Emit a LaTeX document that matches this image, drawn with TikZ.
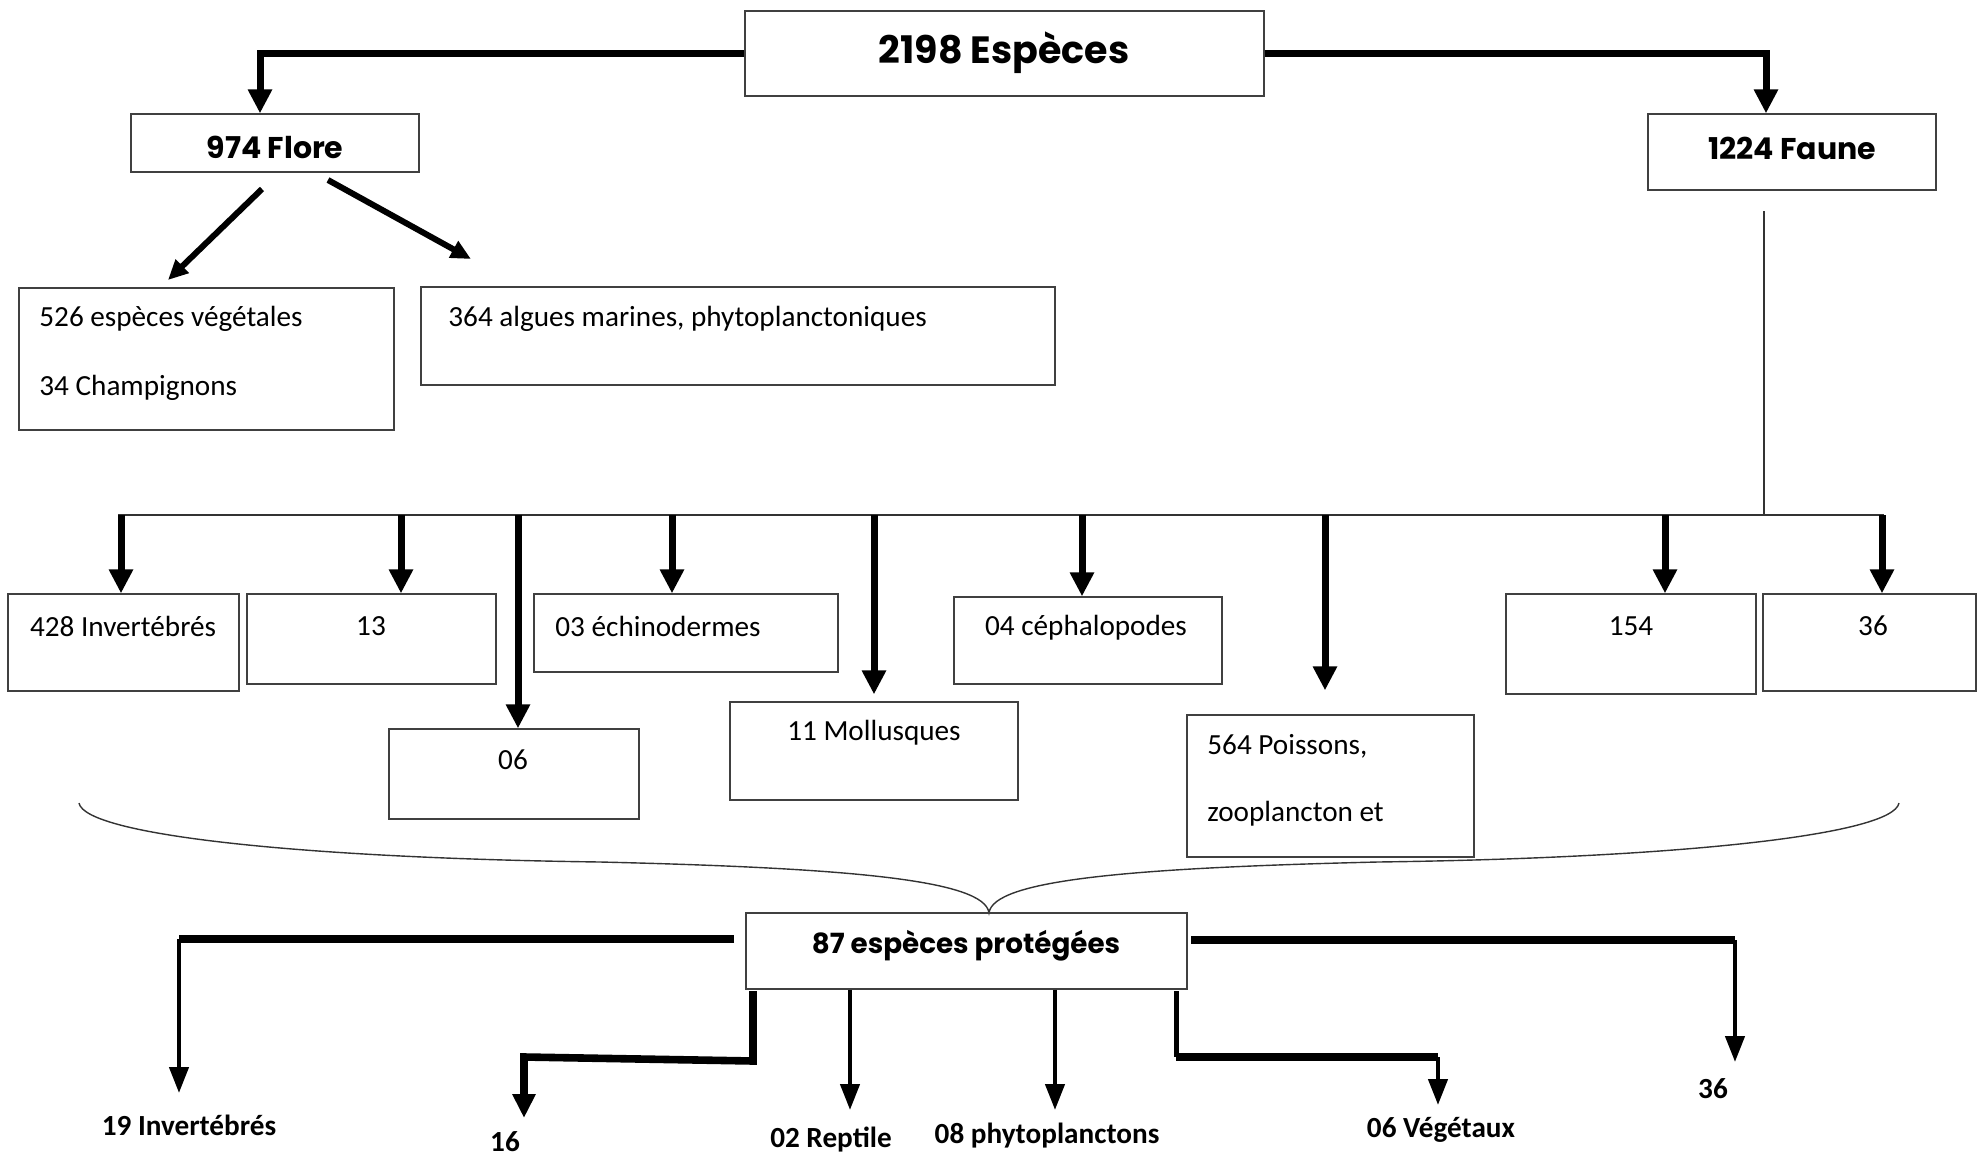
\documentclass[tikz,border=0pt]{standalone}
\usepackage{fontspec}
\setmainfont{Carlito}
\newfontfamily\comic{Poppins}
\usetikzlibrary{arrows.meta, positioning, calc}

\begin{document}
\begin{tikzpicture}[x=0.5pt, y=-0.5pt, font=\fontsize{14.6}{17}\selectfont,
    boite/.style={draw=black!75, line width=0.65pt, inner sep=0pt},
    titre/.style={font=\comic\bfseries\fontsize{15}{18}\selectfont},
    bas/.style={font=\bfseries\fontsize{14.6}{17}\selectfont},
    trait/.style={draw=black!80, line width=0.7pt},
    fleche/.style={line width=3.5pt, -{Triangle[length=12pt, width=11.5pt]}},
    flechefine/.style={line width=2.2pt, -{Triangle[length=13pt, width=9.5pt]}},
    barre/.style={line width=4pt}]
    \useasboundingbox (0,0) rectangle (1978,1157);

    % haut
    \node[boite, minimum width=259.5pt, minimum height=42.5pt] (total) at (1004.5,53.5) {};
    \node[titre, font=\comic\bfseries\fontsize{19}{22}\selectfont] (totaltxt) at (1004,53) {2198 Espèces};
    \node[boite, minimum width=144pt, minimum height=29pt] (flore) at (275,143) {};
    \node[titre] (floretxt) at (275,147) {974 Flore};
    \node[boite, minimum width=144pt, minimum height=38pt] (faune) at (1792,152) {};
    \node[titre] (faunetxt) at (1792,148) {1224 Faune};

    \draw[fleche] (total.west) -| ([xshift=-7.5pt]flore.north);
    \draw[fleche] (total.east) -| ([xshift=-13pt]faune.north);

    % flore
    \node[boite, minimum width=187.5pt, minimum height=71pt] (veg) at (206.5,359) {};
    \node[anchor=west, inner sep=0pt] (vegtxt) at (39,319) {526 espèces végétales};
    \node[anchor=west, inner sep=0pt] (chptxt) at (39,388) {34 Champignons};
    \node[boite, minimum width=317pt, minimum height=49pt] (algues) at (738,336) {};
    \node[anchor=west, inner sep=0pt] (alguestxt) at (448,319) {364 algues marines, phytoplanctoniques};

    \coordinate (fv1) at (262,189);
    \coordinate (fv2) at (168,280);
    \coordinate (fa1) at (328,180);
    \coordinate (fa2) at (471,259);
    \draw[line width=3pt, -{Triangle[length=10pt, width=9pt]}] (fv1) -- (fv2);
    \draw[line width=3pt, -{Triangle[length=10pt, width=9pt]}] (fa1) -- (fa2);

    % faune
    \coordinate (fn1) at (1764,211);
    \coordinate (fn2) at (1764,515);
    \coordinate (barg) at (118,515);
    \coordinate (bard) at (1884,515);
    \draw[trait] (fn1) -- (fn2);
    \draw[trait] (barg) -- (bard);

    \node[boite, minimum width=115.5pt, minimum height=48.5pt] (inv) at (123.5,642.5) {};
    \node (invtxt) at (123,626) {428 Invertébrés};
    \node[boite, minimum width=124.5pt, minimum height=45pt] (b13) at (371.5,639) {};
    \node (b13txt) at (371,626) {13};
    \node[boite, minimum width=152pt, minimum height=39pt] (ech) at (686,633) {};
    \node[anchor=west, inner sep=0pt] (echtxt) at (555,626) {03 échinodermes};
    \node[boite, minimum width=134pt, minimum height=43.5pt] (ceph) at (1088,640.5) {};
    \node (cephtxt) at (1086,628) {04 céphalopodes};
    \node[boite, minimum width=125pt, minimum height=50pt] (b154) at (1631,644) {};
    \node (b154txt) at (1631,626) {154};
    \node[boite, minimum width=106.5pt, minimum height=48.5pt] (b36) at (1869.5,642.5) {};
    \node (b36txt) at (1873,626) {36};
    \node[boite, minimum width=125pt, minimum height=45pt] (b06) at (514,774) {};
    \node (b06txt) at (513,760) {06};
    \node[boite, minimum width=144pt, minimum height=49pt] (moll) at (874,751) {};
    \node (molltxt) at (874,733) {11 Mollusques};
    \node[boite, minimum width=143.5pt, minimum height=71pt] (pois) at (1330.5,786) {};
    \node[anchor=west, inner sep=0pt] (poistxt) at (1207,746) {564 Poissons,};
    \node[anchor=west, inner sep=0pt] (zootxt) at (1207,814) {zooplancton et};

    \coordinate (r1) at (121,515);
    \coordinate (r2) at (401,515);
    \coordinate (r3) at (518,515);
    \coordinate (r4) at (672,515);
    \coordinate (r5) at (874,515);
    \coordinate (r6) at (1082,515);
    \coordinate (r7) at (1325,515);
    \coordinate (r8) at (1665,515);
    \coordinate (r9) at (1882,515);
    \draw[fleche] (r1) -- (r1 |- inv.north);
    \draw[fleche] (r2) -- (r2 |- b13.north);
    \draw[fleche] (r3) -- (r3 |- b06.north);
    \draw[fleche] (r4) -- (r4 |- ech.north);
    \draw[fleche] (r5) -- ([yshift=3.5pt]r5 |- moll.north);
    \draw[fleche] (r6) -- (r6 |- ceph.north);
    \draw[fleche] (r7) -- ([yshift=12pt]r7 |- pois.north);
    \draw[fleche] (r8) -- (r8 |- b154.north);
    \draw[fleche] (r9) -- (r9 |- b36.north);

    % accolade
    \coordinate (acg) at (79,803);
    \coordinate (acd) at (1899,803);
    \coordinate (pointe) at (989,913);
    \draw[trait] (acg) .. controls (85,835) and (300,858) .. (600,862)
        .. controls (850,868) and (985,880) .. (pointe)
        .. controls (993,880) and (1128,868) .. (1378,862)
        .. controls (1678,858) and (1893,835) .. (acd);

    % especes protegees
    \node[boite, minimum width=220.5pt, minimum height=38pt] (prot) at (966.5,951) {};
    \node[titre, font=\comic\bfseries\fontsize{13.9}{17}\selectfont] (prottxt) at (966,946) {87 espèces protégées};

    \node[bas] (l19) at (189,1125) {19 Invertébrés};
    \node[bas] (l16) at (505,1142) {16};
    \node[bas] (l02) at (831,1140) {02 Reptile};
    \node[bas] (l08) at (1047,1136) {08 phytoplanctons};
    \node[bas] (l06) at (1441,1130) {06 Végétaux};
    \node[bas] (l36) at (1713,1089) {36};

    \coordinate (p19a) at (734,939);
    \coordinate (p19b) at (179,939);
    \coordinate (p19c) at (179,1093);
    \draw[barre] (p19a) -- (p19b);
    \draw[flechefine] (p19b) -- (p19c);

    \coordinate (p36a) at (1191,940);
    \coordinate (p36b) at (1735,940);
    \coordinate (p36c) at (1735,1062);
    \draw[barre] (p36a) -- (p36b);
    \draw[flechefine] (p36b) -- (p36c);

    \coordinate (p16a) at (753,991);
    \coordinate (p16b) at (753,1061);
    \coordinate (p16c) at (524,1057);
    \coordinate (p16d) at (524,1118);
    \draw[line width=3.8pt, -{Triangle[length=12pt, width=11pt]}] (p16a) -- (p16b) -- (p16c) -- (p16d);

    \coordinate (p02) at (850,1110);
    \coordinate (p08) at (1055,1110);
    \draw[flechefine] (p02 |- prot.south) -- (p02);
    \draw[flechefine] (p08 |- prot.south) -- (p08);

    \coordinate (p06a) at (1176,991);
    \coordinate (p06b) at (1176,1057);
    \coordinate (p06c) at (1438,1057);
    \coordinate (p06d) at (1438,1105);
    \draw[line width=2.5pt] (p06a) -- (p06b);
    \draw[barre] (p06b) -- (p06c);
    \draw[flechefine] (p06c) -- (p06d);
\end{tikzpicture}
\end{document}
